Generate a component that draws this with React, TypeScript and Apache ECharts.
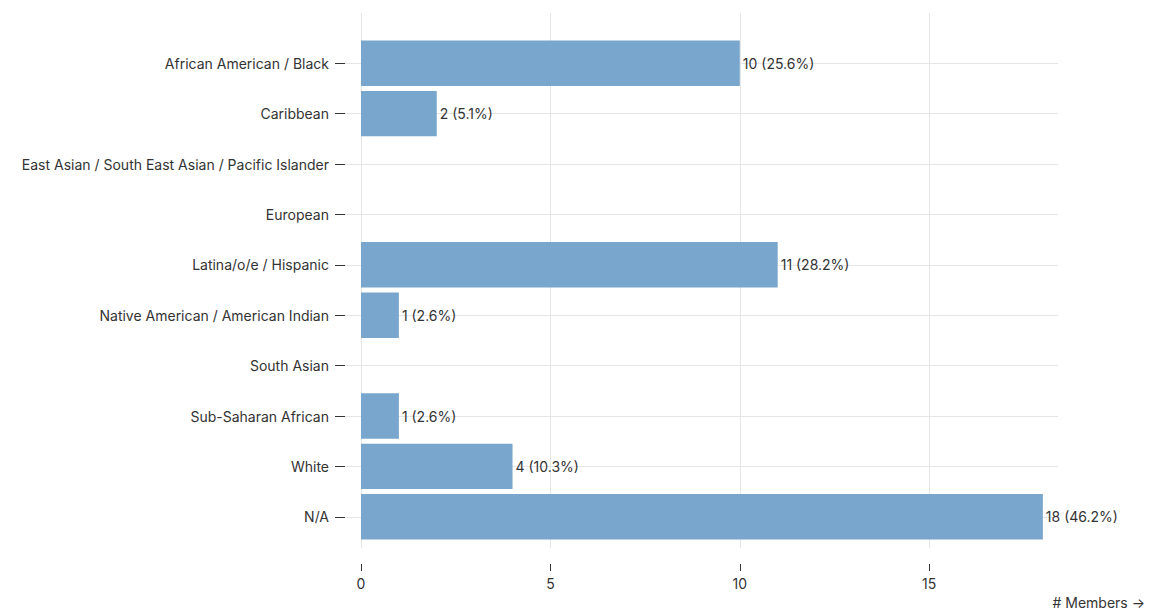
import React, { useEffect, useRef } from "react";
import * as echarts from "echarts";

const categories = [
  "African American / Black",
  "Caribbean",
  "East Asian / South East Asian / Pacific Islander",
  "European",
  "Latina/o/e / Hispanic",
  "Native American / American Indian",
  "South Asian",
  "Sub-Saharan African",
  "White",
  "N/A",
];
const members = [10, 2, 0, 0, 11, 1, 0, 1, 4, 18];
const totalMembers = 39;
const xTicks = [0, 5, 10, 15];
const axisTitle = "# Members →";

const FONT = "Inter";
const FS = 14;
const TEXT = "#333333";
const GRID = "#e6e6e6";
const X_MIN = -0.4225;
const X_MAX = 18.4;

export default function App() {
  const ref = useRef<HTMLDivElement>(null);
  useEffect(() => {
    if (!ref.current) return;
    const chart = echarts.init(ref.current, null, { renderer: "svg" });
    chart.setOption({
      animation: false,
      textStyle: { fontFamily: FONT },
      grid: { left: 345, right: 104, top: 38, bottom: 68, containLabel: false },
      xAxis: [
        {
          type: "value",
          position: "bottom",
          min: X_MIN,
          max: X_MAX,
          offset: 6,
          z: 0,
          axisLine: { show: false, onZero: false },
          axisTick: { show: true, inside: true, length: 535, customValues: xTicks, lineStyle: { color: GRID, width: 1 } },
          axisLabel: { show: false, customValues: xTicks },
          splitLine: { show: false },
        },
        {
          type: "value",
          position: "bottom",
          min: X_MIN,
          max: X_MAX,
          offset: 22,
          z: 1,
          axisLine: { show: false, onZero: false },
          axisTick: { show: true, inside: false, length: 7, customValues: xTicks, lineStyle: { color: TEXT, width: 1 } },
          axisLabel: {
            show: true,
            customValues: xTicks,
            margin: 12,
            color: TEXT,
            fontSize: FS,
            fontFamily: FONT,
          },
          splitLine: { show: false },
        },
      ],
      yAxis: [
        {
          type: "category",
          position: "left",
          data: categories,
          inverse: true,
          z: 0,
          axisLine: { show: false, onZero: false },
          axisTick: { show: true, inside: true, alignWithLabel: true, length: 713, lineStyle: { color: GRID, width: 1 } },
          axisLabel: { show: false },
          splitLine: { show: false },
        },
        {
          type: "category",
          position: "left",
          data: categories,
          inverse: true,
          z: 1,
          axisLine: { show: false, onZero: false },
          axisTick: { show: true, inside: false, alignWithLabel: true, length: 10, lineStyle: { color: TEXT, width: 1 } },
          axisLabel: { margin: 16, color: TEXT, fontSize: FS, fontFamily: FONT },
          splitLine: { show: false },
        },
      ],
      series: [
        {
          type: "bar",
          xAxisIndex: 0,
          yAxisIndex: 0,
          data: members,
          barCategoryGap: "10%",
          itemStyle: { color: "#79a6cc" },
          label: {
            show: true,
            position: "right",
            distance: 3,
            color: TEXT,
            fontSize: FS,
            fontFamily: FONT,
            formatter: (p: any) =>
              p.value > 0 ? `${p.value} (${((p.value / totalMembers) * 100).toFixed(1)}%)` : "",
          },
        },
      ],
      graphic: [
        {
          type: "text",
          right: 17,
          bottom: 1,
          style: { text: axisTitle, fill: TEXT, font: `${FS}px "${FONT}"` },
        },
      ],
    });
    return () => chart.dispose();
  }, []);
  return (
    <div
      ref={ref}
      style={{ position: "absolute", left: 0, top: 0, width: 1162, height: 610, background: "#fff" }}
    />
  );
}
